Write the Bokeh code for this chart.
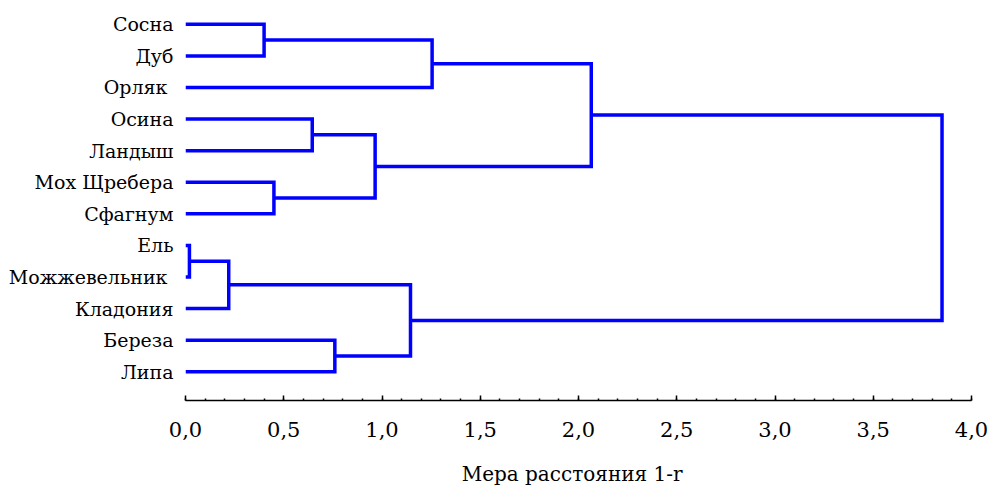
from bokeh.plotting import figure
from bokeh.models import Range1d, FixedTicker
from bokeh.embed import file_html
from bokeh.resources import INLINE

# Leaves, top to bottom
labels = ["Сосна", "Дуб", "Орляк ", "Осина", "Ландыш", "Мох Щребера", "Сфагнум",
          "Ель", "Можжевельник ", "Кладония", "Береза", "Липа"]
# Merges: (left node, right node, distance). Leaves are 0..11, new nodes 12..
merge_left = [0, 12, 3, 5, 14, 13, 7, 18, 10, 19, 17]
merge_right = [1, 2, 4, 6, 15, 16, 8, 9, 11, 20, 21]
merge_height = [0.40, 1.255, 0.645, 0.45, 0.965, 2.065, 0.02, 0.22, 0.76, 1.145, 3.85]

x_ticks = [0, 0.5, 1.0, 1.5, 2.0, 2.5, 3.0, 3.5, 4.0]
x_tick_labels = ["0,0", "0,5", "1,0", "1,5", "2,0", "2,5", "3,0", "3,5", "4,0"]
x_title = "Мера  расстояния  1-r"

n = len(labels)
node_y = {i: n - i for i in range(n)}
node_h = {i: 0.0 for i in range(n)}
xs, ys = [], []
for k, (a, b, h) in enumerate(zip(merge_left, merge_right, merge_height)):
    xs.append([node_h[a], h, h, node_h[b]])
    ys.append([node_y[a], node_y[a], node_y[b], node_y[b]])
    node_y[n + k] = (node_y[a] + node_y[b]) / 2
    node_h[n + k] = h

p = figure(width=993, height=488, output_backend="svg", toolbar_location=None,
           x_range=Range1d(0, 4), y_range=Range1d(0.0886, 12.754),
           min_border_left=185, min_border_right=22, min_border_top=0,
           min_border_bottom=85)
p.outline_line_color = None
p.xgrid.grid_line_color = None
p.ygrid.grid_line_color = None

p.multi_line(xs, ys, line_color="#0000ff", line_width=3.5, line_join="miter")

font = "DejaVu Serif"
p.xaxis.ticker = FixedTicker(ticks=x_ticks,
                             minor_ticks=[i / 10 for i in range(41)])
p.xaxis.major_label_overrides = {t: l for t, l in zip(x_ticks, x_tick_labels)}
p.xaxis.axis_line_color = "black"
p.xaxis.axis_line_width = 1.5
p.xaxis.major_tick_in = 5
p.xaxis.major_tick_out = 0
p.xaxis.minor_tick_in = 2
p.xaxis.minor_tick_out = 0
p.xaxis.major_tick_line_width = 1.5
p.xaxis.minor_tick_line_width = 1.5
p.xaxis.major_label_standoff = 21
p.xaxis.major_label_text_font = font
p.xaxis.major_label_text_font_size = "21px"
p.xaxis.major_label_text_color = "black"
p.xaxis.axis_label = x_title
p.xaxis.axis_label_text_font = font
p.xaxis.axis_label_text_font_size = "20px"
p.xaxis.axis_label_text_font_style = "normal"
p.xaxis.axis_label_text_color = "black"
p.xaxis.axis_label_standoff = 22

p.yaxis.ticker = FixedTicker(ticks=[n - i for i in range(n)])
p.yaxis.major_label_overrides = {n - i: l for i, l in enumerate(labels)}
p.yaxis.axis_line_color = None
p.yaxis.major_tick_line_color = None
p.yaxis.minor_tick_line_color = None
p.yaxis.major_tick_in = 0
p.yaxis.major_tick_out = 0
p.yaxis.major_label_standoff = 12
p.yaxis.major_label_text_font = font
p.yaxis.major_label_text_font_size = "19px"
p.yaxis.major_label_text_color = "black"

open("out.html", "w").write(file_html(p, INLINE))
